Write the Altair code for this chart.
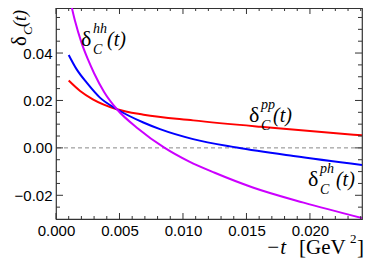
import altair as alt
import pandas as pd

# ---- data ----
series_names = ["pp", "ph", "hh"]
series_colors = ["#ff0000", "#0000ff", "#cc00ff"]

pp_t = [0.0010, 0.0019, 0.0029, 0.0048, 0.0069, 0.0108, 0.0161, 0.0200, 0.0241]
pp_d = [0.0284, 0.0240, 0.0205, 0.0163, 0.0140, 0.0116, 0.0089, 0.0071, 0.0053]

ph_t = [0.0010, 0.00163, 0.00242, 0.00346, 0.0048, 0.00688, 0.00819, 0.0108, 0.01423, 0.0187, 0.0241]
ph_d = [0.0392, 0.0331, 0.0275, 0.0212, 0.0163, 0.0107, 0.0079, 0.0037, 0.0002, -0.0034, -0.0072]

hh_t = [0.0010, 0.0015, 0.0020, 0.0025, 0.0030, 0.0038, 0.0048, 0.0065, 0.0085, 0.0105, 0.0125, 0.0155, 0.0195, 0.0241]
hh_d = [0.0650, 0.0535, 0.0445, 0.0375, 0.0315, 0.0235, 0.0163, 0.0080, 0.0002, -0.0058, -0.0105, -0.0167, -0.0231, -0.0296]

x_major = [0.000, 0.005, 0.010, 0.015, 0.020]
x_minor = [0.001, 0.002, 0.003, 0.004, 0.006, 0.007, 0.008, 0.009, 0.011, 0.012,
           0.013, 0.014, 0.016, 0.017, 0.018, 0.019, 0.021, 0.022, 0.023, 0.024]
y_major = [-0.02, 0.00, 0.02, 0.04]
y_minor = [-0.025, -0.015, -0.010, -0.005, 0.005, 0.010, 0.015, 0.025, 0.030,
           0.035, 0.045, 0.050, 0.055]

# curve labels: superscript text, anchor (t, d), offset of "(t)"
label_sup = ["hh", "pp", "ph"]
label_t = [0.00197, 0.0152, 0.01984]
label_d = [0.0428, 0.0108, -0.0161]
label_paren_dx = [26, 24, 28]

X_DOM = [0, 0.0241]
Y_DOM = [-0.03, 0.059]
W, H = 306, 211

rows = []
for name, ts, ds in [("pp", pp_t, pp_d), ("ph", ph_t, ph_d), ("hh", hh_t, hh_d)]:
    for t, d in zip(ts, ds):
        rows.append({"series": name, "t": t, "d": d})
df = pd.DataFrame(rows)

xs = alt.Scale(domain=X_DOM, nice=False, zero=False)
ys = alt.Scale(domain=Y_DOM, nice=False, zero=False)

X_AX = alt.Axis(values=x_major, format=".3f", title=None, ticks=False, domain=False, grid=False,
                labelFont="Liberation Sans", labelFontSize=15, labelColor="black",
                labelPadding=4, labelFlush=False, labelOverlap=False)
Y_AX = alt.Axis(values=y_major, format=".2f", title=None, ticks=False, domain=False, grid=False,
                labelFont="Liberation Sans", labelFontSize=15, labelColor="black",
                labelPadding=4, labelFlush=False, labelOverlap=False)

X = lambda: alt.X("t:Q", scale=xs, axis=X_AX)
Y = lambda: alt.Y("d:Q", scale=ys, axis=Y_AX)

lines = alt.Chart(df).mark_line(strokeWidth=2, interpolate="monotone", clip=True).encode(
    x=X(), y=Y(),
    color=alt.Color("series:N", scale=alt.Scale(domain=series_names, range=series_colors), legend=None),
    order="t:Q",
)

zero = alt.Chart(pd.DataFrame({"d": [0.0]})).mark_rule(
    strokeDash=[4, 3], color="#888888", strokeWidth=1).encode(y=Y())

TICK = "#333333"
layers = [zero, lines]
for vals, ln in [(x_major, 6), (x_minor, 3)]:
    tdf = pd.DataFrame({"t": vals})
    layers.append(alt.Chart(tdf).mark_rule(color=TICK, strokeWidth=1).encode(
        x=X(), y=alt.value(H), y2=alt.value(H - ln)))
    layers.append(alt.Chart(tdf).mark_rule(color=TICK, strokeWidth=1).encode(
        x=X(), y=alt.value(0), y2=alt.value(ln)))
for vals, ln in [(y_major, 7), (y_minor, 4)]:
    tdf = pd.DataFrame({"d": vals})
    layers.append(alt.Chart(tdf).mark_rule(color=TICK, strokeWidth=1).encode(
        y=Y(), x=alt.value(0), x2=alt.value(ln)))
    layers.append(alt.Chart(tdf).mark_rule(color=TICK, strokeWidth=1).encode(
        y=Y(), x=alt.value(W), x2=alt.value(W - ln)))

SERIF = "Liberation Serif"


def piece(t, d, text, size, dx=0, dy=0, italic=False):
    pdf = pd.DataFrame({"t": [t], "d": [d], "s": [text]})
    return alt.Chart(pdf).mark_text(
        align="left", baseline="alphabetic", font=SERIF, fontSize=size,
        fontStyle="italic" if italic else "normal", dx=dx, dy=dy, color="black"
    ).encode(x=X(), y=Y(), text="s:N")


for sup, t, d, pdx in zip(label_sup, label_t, label_d, label_paren_dx):
    layers.append(piece(t, d, "δ", 22))
    layers.append(piece(t, d, "C", 14, dx=12, dy=8, italic=True))
    layers.append(piece(t, d, sup, 14, dx=12, dy=-13, italic=True))
    layers.append(piece(t, d, "(t)", 20, dx=pdx, italic=True))


def free(text, x, y, size, dx=0, dy=0, italic=False, angle=0):
    fdf = pd.DataFrame({"s": [text]})
    kw = dict(align="left", baseline="alphabetic", font=SERIF, fontSize=size,
              fontStyle="italic" if italic else "normal", dx=dx, dy=dy, color="black")
    if angle:
        kw["angle"] = angle
    return alt.Chart(fdf).mark_text(**kw).encode(x=alt.value(x), y=alt.value(y), text="s:N")


# y-axis title (rotated)
ytx, yty = -30, 38
layers.append(free("δ", ytx, yty, 21, angle=270))
layers.append(free("C", ytx, yty, 13, dx=11, dy=6, italic=True, angle=270))
layers.append(free("(t)", ytx, yty, 18, dx=19, italic=True, angle=270))

# x-axis title
layers.append(free("−t", 210, 246, 21, italic=True))
layers.append(free("[GeV", 243, 246, 21))
layers.append(free("2", 294, 235, 13))
layers.append(free("]", 301, 246, 21))

chart = alt.layer(*layers).properties(
    width=W, height=H,
    padding={"left": 48, "top": 0, "right": 4, "bottom": 39},
    autosize="none",
).configure_view(stroke="#333333", strokeWidth=1.2)

chart.save("out.html", embed_options={"renderer": "svg", "actions": False})
